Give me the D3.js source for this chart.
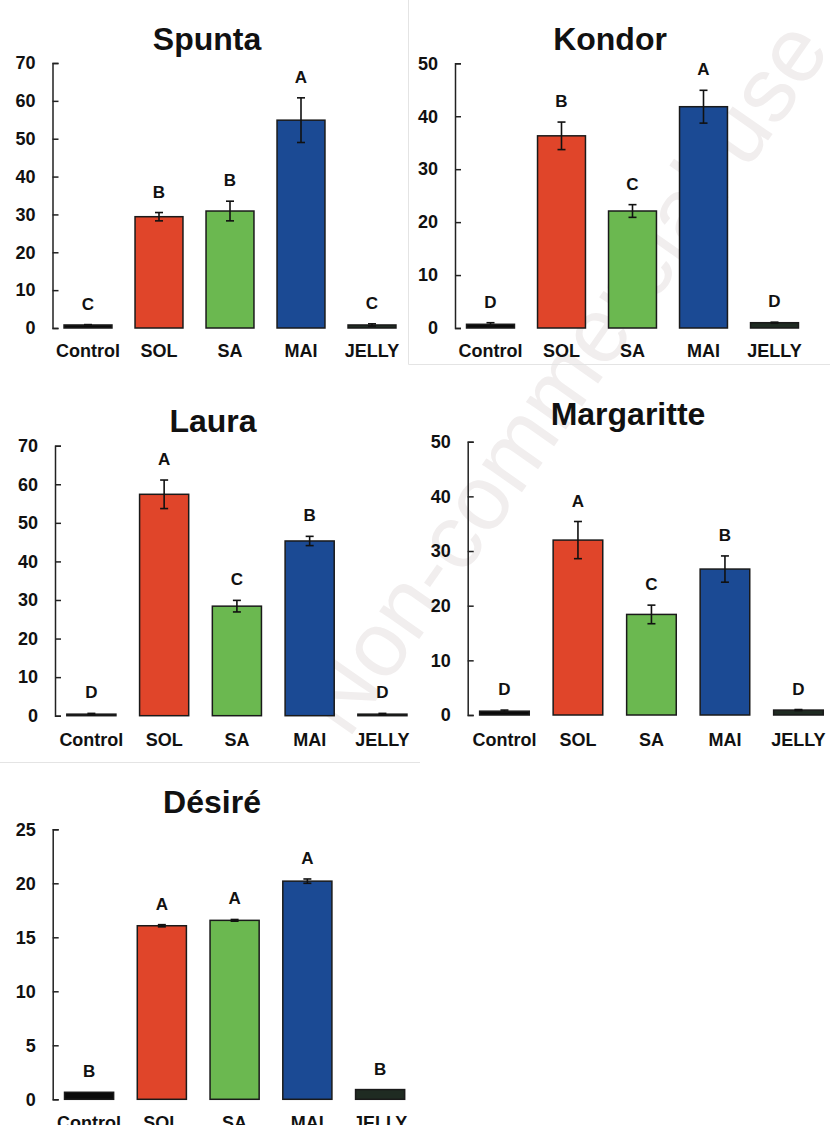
<!DOCTYPE html>
<html>
<head>
<meta charset="utf-8">
<script src="https://cdn.jsdelivr.net/npm/d3@7"></script>
<style>
  html, body { margin: 0; padding: 0; background: #fff; }
  svg { display: block; font-family: "Liberation Sans", Arial, sans-serif; }
</style>
</head>
<body>
<svg id="chart" width="830" height="1125"></svg>
<script>
// ---------------- DATA ----------------
const categories = ["Control", "SOL", "SA", "MAI", "JELLY"];
const cultivars = ["Spunta", "Kondor", "Laura", "Margaritte", "Désiré"];

const spuntaMeans   = [0.8, 29.4, 30.9, 54.9, 0.8];
const spuntaErrors  = [0.1, 1.1, 2.6, 5.9, 0.3];
const spuntaLetters = ["C", "B", "B", "A", "C"];
const spuntaTicks   = [0, 10, 20, 30, 40, 50, 60, 70];

const kondorMeans   = [0.7, 36.3, 22.1, 41.8, 1.0];
const kondorErrors  = [0.3, 2.6, 1.2, 3.1, 0.1];
const kondorLetters = ["D", "B", "C", "A", "D"];
const kondorTicks   = [0, 10, 20, 30, 40, 50];

const lauraMeans    = [0.4, 57.4, 28.4, 45.3, 0.4];
const lauraErrors   = [0.2, 3.7, 1.5, 1.2, 0.2];
const lauraLetters  = ["D", "A", "C", "B", "D"];
const lauraTicks    = [0, 10, 20, 30, 40, 50, 60, 70];

const margaritteMeans   = [0.7, 32.0, 18.4, 26.7, 0.9];
const margaritteErrors  = [0.2, 3.4, 1.7, 2.4, 0.1];
const margaritteLetters = ["D", "A", "C", "B", "D"];
const margaritteTicks   = [0, 10, 20, 30, 40, 50];

const desireMeans   = [0.65, 16.07, 16.57, 20.2, 0.9];
const desireErrors  = [0.0, 0.1, 0.08, 0.2, 0.0];
const desireLetters = ["B", "A", "A", "A", "B"];
const desireTicks   = [0, 5, 10, 15, 20, 25];

// ---------------- STYLE / LAYOUT ----------------
const barColors = {
  Control: "#0b0b0b",
  SOL: "#e0452a",
  SA: "#6bb850",
  MAI: "#1b4a94",
  JELLY: "#1f2b22"
};

const panels = [
  { name: cultivars[0], means: spuntaMeans, errors: spuntaErrors, letters: spuntaLetters, ticks: spuntaTicks,
    axisX: 52.5, x1: 407.5, y0: 328, y1: 63, titleX: 207, titleY: 50, labelY: 357 },
  { name: cultivars[1], means: kondorMeans, errors: kondorErrors, letters: kondorLetters, ticks: kondorTicks,
    axisX: 455, x1: 810, y0: 328, y1: 63.3, titleX: 610, titleY: 50, labelY: 357 },
  { name: cultivars[2], means: lauraMeans, errors: lauraErrors, letters: lauraLetters, ticks: lauraTicks,
    axisX: 55, x1: 418.8, y0: 715.7, y1: 445.7, titleX: 213, titleY: 432, labelY: 746 },
  { name: cultivars[3], means: margaritteMeans, errors: margaritteErrors, letters: margaritteLetters, ticks: margaritteTicks,
    axisX: 467.7, x1: 835.2, y0: 715, y1: 441.7, titleX: 628, titleY: 425, labelY: 746 },
  { name: cultivars[4], means: desireMeans, errors: desireErrors, letters: desireLetters, ticks: desireTicks,
    axisX: 52.7, x1: 416.5, y0: 1099.3, y1: 829.3, titleX: 212, titleY: 813, labelY: 1129 }
];

const svg = d3.select("#chart");

// faint watermark and panel borders from the source figure
svg.append("text")
  .attr("transform", "translate(590,395) rotate(-55)")
  .attr("text-anchor", "middle")
  .attr("font-size", 92)
  .attr("fill", "#f1eeee")
  .text("Non-commercial use");

const borders = svg.append("g").attr("stroke", "#e4e4e4").attr("stroke-width", 1).attr("fill", "none");
borders.append("path").attr("d", "M408.5,0 V364.5 H830");
borders.append("path").attr("d", "M0,762.5 H420");

panels.forEach(p => {
  const g = svg.append("g");
  const maxTick = p.ticks[p.ticks.length - 1];

  const x = d3.scaleBand()
    .domain(categories)
    .range([p.axisX, p.x1])
    .paddingInner(0.325)
    .paddingOuter(0.1625);

  const y = d3.scaleLinear()
    .domain([0, maxTick])
    .range([p.y0, p.y1]);

  // title
  g.append("text")
    .attr("x", p.titleX)
    .attr("y", p.titleY)
    .attr("text-anchor", "middle")
    .attr("font-size", 32)
    .attr("font-weight", "bold")
    .attr("fill", "#111")
    .text(p.name);

  // y axis (ticks point inward)
  const axis = d3.axisLeft(y)
    .tickValues(p.ticks)
    .tickFormat(d3.format("d"))
    .tickSizeInner(-6)
    .tickSizeOuter(-6)
    .tickPadding(17);

  const ag = g.append("g")
    .attr("transform", `translate(${p.axisX},0)`)
    .call(axis);
  ag.select(".domain").attr("stroke", "#222").attr("stroke-width", 1.5);
  ag.selectAll(".tick line").attr("stroke", "#222").attr("stroke-width", 1.5);
  ag.selectAll(".tick text")
    .attr("font-size", 18)
    .attr("font-weight", "bold")
    .attr("fill", "#111")
    .attr("font-family", "'Liberation Sans', Arial, sans-serif");

  const data = categories.map((c, i) => ({
    cat: c, mean: p.means[i], err: p.errors[i], letter: p.letters[i]
  }));

  // bars
  g.selectAll("rect.bar")
    .data(data)
    .join("rect")
    .attr("class", "bar")
    .attr("x", d => x(d.cat))
    .attr("width", x.bandwidth())
    .attr("y", d => y(d.mean))
    .attr("height", d => y(0) - y(d.mean))
    .attr("fill", d => barColors[d.cat])
    .attr("stroke", "#1a1a1a")
    .attr("stroke-width", 1.5);

  // error bars
  const eg = g.append("g").attr("stroke", "#111").attr("stroke-width", 1.6);
  data.filter(d => d.err > 0).forEach(d => {
    const cx = x(d.cat) + x.bandwidth() / 2;
    const top = y(d.mean + d.err), bot = y(d.mean - d.err);
    eg.append("line").attr("x1", cx).attr("x2", cx).attr("y1", top).attr("y2", bot);
    eg.append("line").attr("x1", cx - 4).attr("x2", cx + 4).attr("y1", top).attr("y2", top);
    eg.append("line").attr("x1", cx - 4).attr("x2", cx + 4).attr("y1", bot).attr("y2", bot);
  });

  // significance letters
  g.selectAll("text.letter")
    .data(data)
    .join("text")
    .attr("class", "letter")
    .attr("x", d => x(d.cat) + x.bandwidth() / 2)
    .attr("y", d => y(d.mean + d.err) - 15)
    .attr("text-anchor", "middle")
    .attr("font-size", 17)
    .attr("font-weight", "bold")
    .attr("fill", "#111")
    .text(d => d.letter);

  // category labels
  g.selectAll("text.cat")
    .data(categories)
    .join("text")
    .attr("class", "cat")
    .attr("x", d => x(d) + x.bandwidth() / 2)
    .attr("y", p.labelY)
    .attr("text-anchor", "middle")
    .attr("font-size", 18)
    .attr("font-weight", "bold")
    .attr("fill", "#111")
    .text(d => d);
});
</script>
</body>
</html>
